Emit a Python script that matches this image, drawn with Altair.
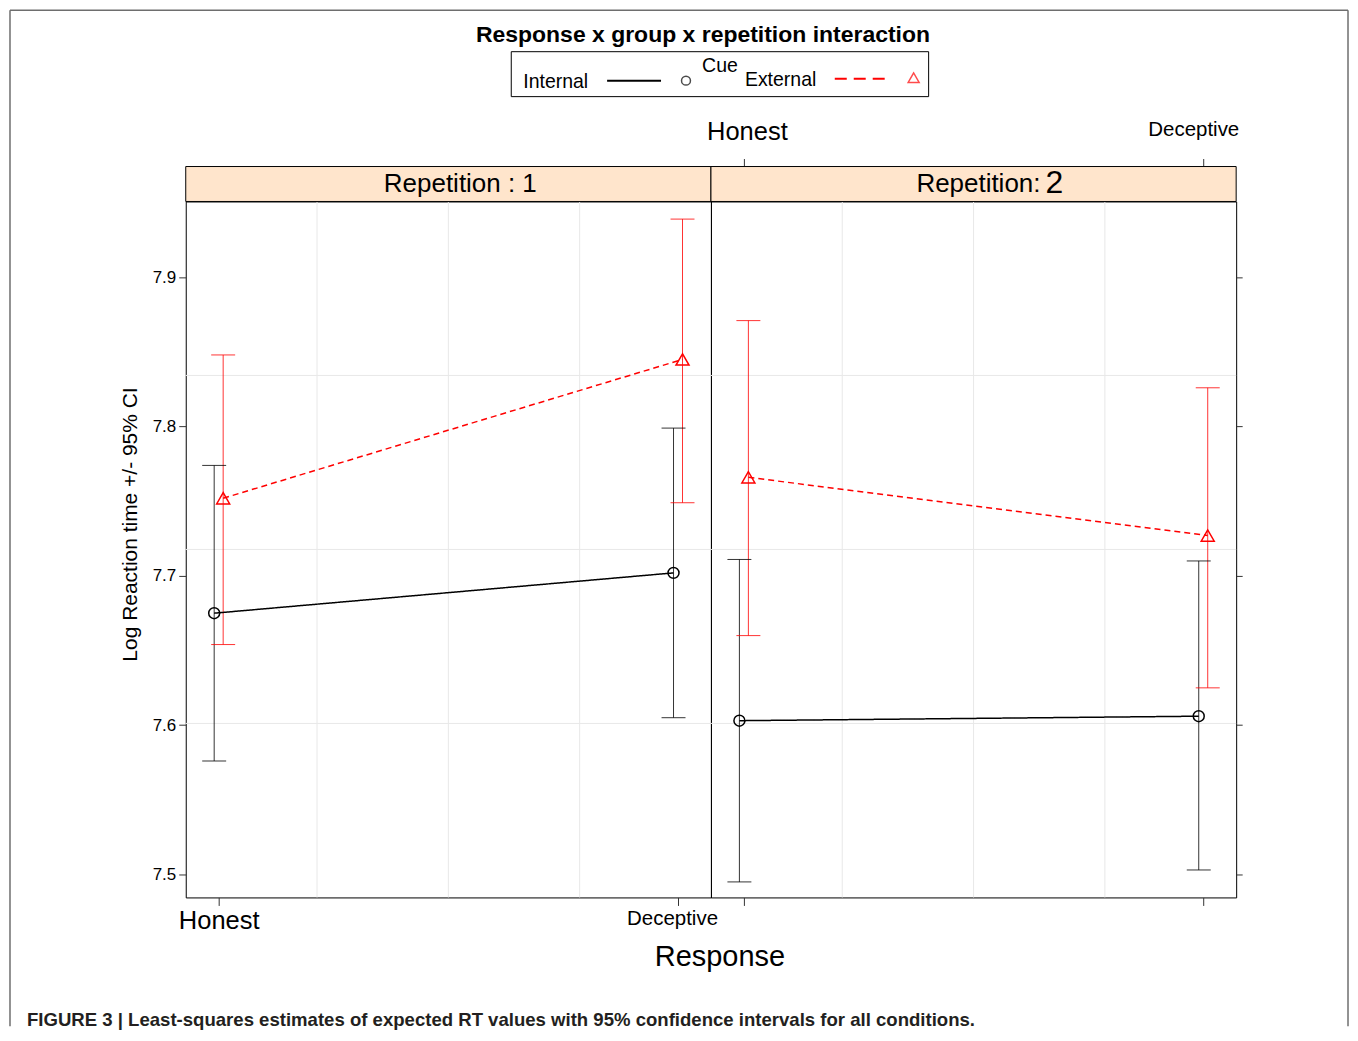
import altair as alt
import pandas as pd

# ---------------- data ----------------
responses = ["Honest", "Deceptive"]
cues = ["Internal", "External"]
reps = ["1", "2"]

rep1_int_mean = [7.675, 7.702]
rep1_int_lo = [7.576, 7.605]
rep1_int_hi = [7.774, 7.799]
rep1_ext_mean = [7.752, 7.845]
rep1_ext_lo = [7.654, 7.749]
rep1_ext_hi = [7.848, 7.939]

rep2_int_mean = [7.603, 7.606]
rep2_int_lo = [7.495, 7.503]
rep2_int_hi = [7.711, 7.710]
rep2_ext_mean = [7.766, 7.727]
rep2_ext_lo = [7.660, 7.625]
rep2_ext_hi = [7.871, 7.826]

y_ticks = [7.5, 7.6, 7.7, 7.8, 7.9]
y_domain = [7.4846, 7.9508]

title_text = "Response x group x repetition interaction"
y_title = "Log Reaction time +/- 95% CI"
x_title = "Response"
caption = "FIGURE 3 | Least-squares estimates of expected RT values with 95% confidence intervals for all conditions."

series = {
    ("1", "Internal"): (rep1_int_mean, rep1_int_lo, rep1_int_hi),
    ("1", "External"): (rep1_ext_mean, rep1_ext_lo, rep1_ext_hi),
    ("2", "Internal"): (rep2_int_mean, rep2_int_lo, rep2_int_hi),
    ("2", "External"): (rep2_ext_mean, rep2_ext_lo, rep2_ext_hi),
}
rows = []
for (rep, cue), (m, lo, hi) in series.items():
    for i, r in enumerate(responses):
        rows.append({"rep": rep, "cue": cue, "response": r,
                     "mean": m[i], "lo": lo[i], "hi": hi[i]})
df = pd.DataFrame(rows)

# ---------------- styling ----------------
W, H = 526, 697
FONT = "Liberation Sans"
STRIP = "#ffe5cc"
GRID = "#e8e8e8"

x_scale = alt.Scale(type="point", domain=responses, padding=0.0717)
off_scale = alt.Scale(type="point", domain=cues, range=[-4.5, 4.5], padding=0)
y_scale = alt.Scale(domain=y_domain, nice=False, zero=False)
color_scale = alt.Scale(domain=cues, range=["#000000", "#ff0000"])
dash_scale = alt.Scale(domain=cues, range=[[1, 0], [6, 4]])
shape_scale = alt.Scale(domain=cues, range=["circle", "triangle-up"])
size_scale = alt.Scale(domain=cues, range=[120, 170])

IS_H = "datum.value == 'Honest'"
size_cond = {"condition": {"test": IS_H, "value": 25.5}, "value": 20.5}
base_top = {"condition": {"test": IS_H, "value": "alphabetic"}, "value": "bottom"}
off_bottom = {"condition": {"test": IS_H, "value": 0}, "value": -6}
off_top = {"condition": {"test": IS_H, "value": 3}, "value": -10}


def one():
    return alt.Data(values=[{}])


def text_at(x, y, txt, size, align="center", weight="normal", baseline="middle", color="#000"):
    return alt.Chart(one()).mark_text(
        text=txt, font=FONT, fontSize=size, align=align, baseline=baseline,
        fontWeight=weight, color=color
    ).encode(x=alt.value(x), y=alt.value(y))


def rule_at(x, x2, y, y2, color, width, dash=None):
    kw = {"color": color, "strokeWidth": width}
    if dash is not None:
        kw["strokeDash"] = dash
    return alt.Chart(one()).mark_rule(**kw).encode(
        x=alt.value(x), x2=alt.value(x2), y=alt.value(y), y2=alt.value(y2))


def panel(rep, first):
    d = df[df["rep"] == rep]
    if first:
        x_axis_a = alt.Axis(orient="bottom", title=None, labelFontSize=size_cond,
                            labelOffset=off_bottom,
                            labelAngle=0, tickSize=8, labelPadding=3, domain=False,
                            grid=False, labelBaseline="top")
        x_axis_b = None
        y_axis_a = alt.Axis(orient="left", values=y_ticks, format=".1f", title=y_title,
                            labelFontSize=17, tickSize=7, labelPadding=3, domain=False,
                            grid=False, titleFontSize=21, titleFontWeight="normal",
                            titleAngle=270, titleX=-55, titleY=323, titleBaseline="middle",
                            titleAlign="center")
    else:
        x_axis_a = alt.Axis(orient="top", offset=35, title=None, labelFontSize=size_cond,
                            labelBaseline=base_top, labelOffset=off_top, labelAngle=0,
                            tickSize=8, labelPadding=19, domain=False, grid=False)
        x_axis_b = alt.Axis(orient="bottom", title=None, labels=False, tickSize=8,
                            domain=False, grid=False)
        y_axis_a = alt.Axis(orient="right", values=y_ticks, labels=False, title=None,
                            tickSize=6, domain=False, grid=False)

    base = alt.Chart(d)

    def xenc(axis):
        return alt.X("response:N", scale=x_scale, axis=axis, sort=responses)

    xo = alt.XOffset("cue:N", scale=off_scale)
    col = alt.Color("cue:N", scale=color_scale, legend=None)

    # quarter grid lines (lattice panel background)
    grid_layers = []
    for f in [0.25, 0.5, 0.75]:
        grid_layers.append(rule_at(W * f, W * f, 0, H, GRID, 1))
        grid_layers.append(rule_at(0, W, H * f, H * f, GRID, 1))

    bars = base.mark_rule(strokeWidth=1, opacity=0.8).encode(
        x=xenc(x_axis_a), xOffset=xo,
        y=alt.Y("lo:Q", scale=y_scale, axis=y_axis_a), y2="hi:Q",
        color=col)
    caps_lo = base.mark_tick(size=24, thickness=1, opacity=0.8).encode(
        x=xenc(x_axis_b), xOffset=xo,
        y=alt.Y("lo:Q", scale=y_scale, axis=None),
        color=col)
    caps_hi = base.mark_tick(size=24, thickness=1, opacity=0.8).encode(
        x=xenc(None), xOffset=xo,
        y=alt.Y("hi:Q", scale=y_scale, axis=None),
        color=col)
    lines = base.mark_line(strokeWidth=1.5).encode(
        x=xenc(None), xOffset=xo,
        y=alt.Y("mean:Q", scale=y_scale, axis=None),
        color=col,
        strokeDash=alt.StrokeDash("cue:N", scale=dash_scale, legend=None))
    pts = base.mark_point(filled=False, strokeWidth=1.5, opacity=1).encode(
        x=xenc(None), xOffset=xo,
        y=alt.Y("mean:Q", scale=y_scale, axis=None),
        color=col,
        shape=alt.Shape("cue:N", scale=shape_scale, legend=None),
        size=alt.Size("cue:N", scale=size_scale, legend=None))

    strip = alt.Chart(one()).mark_rect(fill=STRIP, stroke="#000", strokeWidth=1).encode(
        x=alt.value(0), x2=alt.value(W), y=alt.value(-35), y2=alt.value(0))

    layers = grid_layers + [bars, caps_lo, caps_hi, lines, pts, strip]
    if first:
        layers.append(text_at(275, -17, "Repetition : 1", 26))
        # outer figure frame (left, top, right edges)
        layers.append(rule_at(-176, -176, -191.5, 826, "#6e6e6e", 1.5))
        layers.append(rule_at(-176, 1164, -191.5, -191.5, "#6e6e6e", 1.5))
        layers.append(rule_at(1164, 1164, -191.5, 826, "#6e6e6e", 1.5))
        # title
        layers.append(text_at(518, -167, title_text, 23, weight="bold"))
        # key
        layers.append(alt.Chart(one()).mark_rect(fillOpacity=0, stroke="#000", strokeWidth=1).encode(
            x=alt.value(326), x2=alt.value(744), y=alt.value(-150), y2=alt.value(-105)))
        layers.append(text_at(535, -136, "Cue", 19.5))
        layers.append(text_at(338, -120, "Internal", 19.5, align="left"))
        layers.append(text_at(560, -122, "External", 19.5, align="left"))
        layers.append(rule_at(422, 476, -121, -121, "#000", 2))
        layers.append(rule_at(650, 700, -123, -123, "#ff0000", 2, dash=[12, 7]))
        layers.append(alt.Chart(one()).mark_point(shape="circle", filled=False, color="#000",
                                                   strokeWidth=1.5, size=80).encode(
            x=alt.value(501), y=alt.value(-121)))
        layers.append(alt.Chart(one()).mark_point(shape="triangle-up", filled=False, color="#ff0000",
                                                   strokeWidth=1.5, size=120).encode(
            x=alt.value(729), y=alt.value(-124)))
        # x title and caption
        layers.append(text_at(535, 757, x_title, 29))
        layers.append(text_at(-159, 820, caption, 18.6, align="left", weight="bold", color="#231f20"))
    else:
        layers.append(text_at(330, -17, "Repetition:", 26, align="right"))
        layers.append(text_at(335, -18, "2", 32, align="left"))

    return alt.layer(*layers).properties(width=W, height=H).resolve_axis(
        x="independent", y="independent")


chart = alt.hconcat(panel("1", True), panel("2", False), spacing=0, bounds="flush").properties(
    padding={"left": 0, "top": 0, "right": 0, "bottom": 0}, background="white"
).configure_view(
    stroke="#000", strokeWidth=1
).configure_axis(
    labelFont=FONT, titleFont=FONT, labelColor="#000", titleColor="#000",
    tickColor="#333", tickWidth=1
)

chart.save("out.html", embed_options={"renderer": "svg", "actions": False})
